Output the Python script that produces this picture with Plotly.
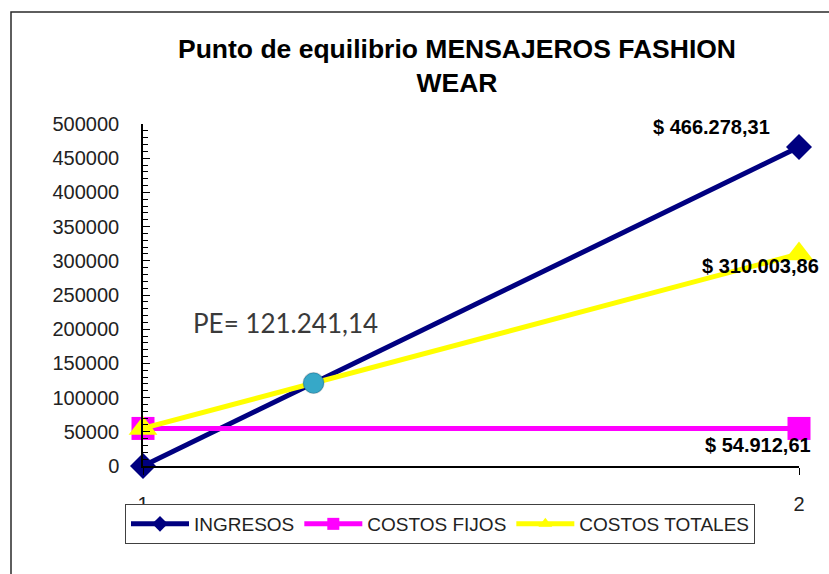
import plotly.graph_objects as go

# Categories on the horizontal axis
periodos = [1, 2]

# Series values
ingresos = [0.0, 466278.31]
costos_fijos = [54912.61, 54912.61]
costos_totales = [54912.61, 310003.86]

# Break-even point (sales value)
punto_equilibrio = 121241.14

series_names = ["INGRESOS", "COSTOS FIJOS", "COSTOS TOTALES"]
y_ticks = [0, 50000, 100000, 150000, 200000, 250000, 300000, 350000, 400000, 450000, 500000]


def miles(v):
    """Format a number as '466.278,31' (Spanish separators)."""
    s = f"{v:,.2f}"
    return s.replace(",", "_").replace(".", ",").replace("_", ".")


def pesos(v):
    return "$ " + miles(v)


# Position of the break-even point along the category axis
pe_x = periodos[0] + (punto_equilibrio - ingresos[0]) / (ingresos[1] - ingresos[0]) * (periodos[1] - periodos[0])

ARIAL = "Liberation Sans, Arial, sans-serif"

fig = go.Figure()

fig.add_trace(go.Scatter(
    x=periodos, y=ingresos, name=series_names[0], mode="lines+markers",
    line=dict(color="#000080", width=5),
    marker=dict(symbol="diamond", size=20, color="#000080"),
    cliponaxis=False,
))
fig.add_trace(go.Scatter(
    x=periodos, y=costos_fijos, name=series_names[1], mode="lines+markers",
    line=dict(color="#FF00FF", width=5),
    marker=dict(symbol="square", size=23, color="#FF00FF"),
    cliponaxis=False,
))
fig.add_trace(go.Scatter(
    x=periodos, y=costos_totales, name=series_names[2], mode="lines+markers",
    line=dict(color="#FFFF00", width=5),
    marker=dict(symbol="triangle-up", size=25, color="#FFFF00"),
    cliponaxis=False,
))

# Shadow + break-even marker
fig.add_trace(go.Scatter(
    x=[pe_x], y=[punto_equilibrio], mode="markers", showlegend=False,
    marker=dict(symbol="circle", size=22, color="rgba(0,0,0,0.18)", line=dict(width=0)),
    hoverinfo="skip", cliponaxis=False,
))
fig.add_trace(go.Scatter(
    x=[pe_x], y=[punto_equilibrio], mode="markers", showlegend=False,
    marker=dict(symbol="circle", size=20, color="#36A8C8", line=dict(color="#2A8FB0", width=1)),
    cliponaxis=False,
))

label_font = dict(family=ARIAL, size=20, color="#000000")
annotations = [
    dict(x=periodos[1], y=ingresos[1], text="<b>" + pesos(ingresos[1]) + "</b>",
         showarrow=False, xshift=-88, yshift=20, font=label_font),
    dict(x=periodos[1], y=costos_totales[1], text="<b>" + pesos(costos_totales[1]) + "</b>",
         showarrow=False, xshift=-39, yshift=-12, font=label_font),
    dict(x=periodos[1], y=costos_fijos[1], text="<b>" + pesos(costos_fijos[1]) + "</b>",
         showarrow=False, xshift=-41, yshift=-17, font=label_font),
    dict(x=pe_x, y=punto_equilibrio, text="PE= " + miles(punto_equilibrio),
         showarrow=False, xshift=-28, yshift=60,
         font=dict(family="Lato, Open Sans, sans-serif", size=26, color="#3a3a3a")),
]

# Chart-area frame (top and left edges)
px_to_x = lambda p: (p - 143) / 656
px_to_y = lambda p: (466 - p) / 342
shapes = [
    dict(type="rect", xref="paper", yref="paper",
         x0=px_to_x(11), x1=px_to_x(845), y0=px_to_y(590), y1=px_to_y(12),
         line=dict(color="#2a2a2a", width=1.5), fillcolor="rgba(0,0,0,0)", layer="above"),
]

fig.update_layout(
    width=829, height=574,
    margin=dict(l=143, r=30, t=124, b=108),
    paper_bgcolor="white", plot_bgcolor="white",
    font=dict(family=ARIAL, color="#222222"),
    title=dict(
        text="<b>Punto de equilibrio MENSAJEROS FASHION<br>WEAR</b>",
        font=dict(family=ARIAL, size=26.5, color="#000000"),
        x=457 / 829, xanchor="center",
        y=1 - 58 / 574, yanchor="top",
    ),
    xaxis=dict(
        range=[periodos[0], periodos[1]], tickvals=periodos, ticktext=[str(p) for p in periodos],
        showgrid=False, zeroline=False, showline=True, linecolor="#000000", linewidth=1.5,
        ticks="outside", ticklen=7, tickcolor="#000000",
        tickfont=dict(family=ARIAL, size=20, color="#222222"),
        ticklabelstandoff=12,
    ),
    yaxis=dict(
        range=[0, 500000], tickvals=y_ticks, ticktext=[str(t) for t in y_ticks],
        showgrid=False, zeroline=False, showline=True, linecolor="#000000", linewidth=1.5,
        ticks="inside", ticklen=7, tickcolor="#000000",
        minor=dict(dtick=10000, ticks="inside", ticklen=5, tickcolor="#000000", showgrid=False),
        tickfont=dict(family=ARIAL, size=20, color="#222222"),
        ticklabelstandoff=18,
    ),
    legend=dict(
        orientation="h", x=px_to_x(125), xanchor="left",
        y=px_to_y(524), yanchor="middle",
        font=dict(family=ARIAL, size=19, color="#222222"),
        bordercolor="#404040", borderwidth=1, bgcolor="white",
        itemwidth=58, itemsizing="constant",
    ),
    annotations=annotations,
    shapes=shapes,
    showlegend=True,
)

fig.write_html("out.html")
